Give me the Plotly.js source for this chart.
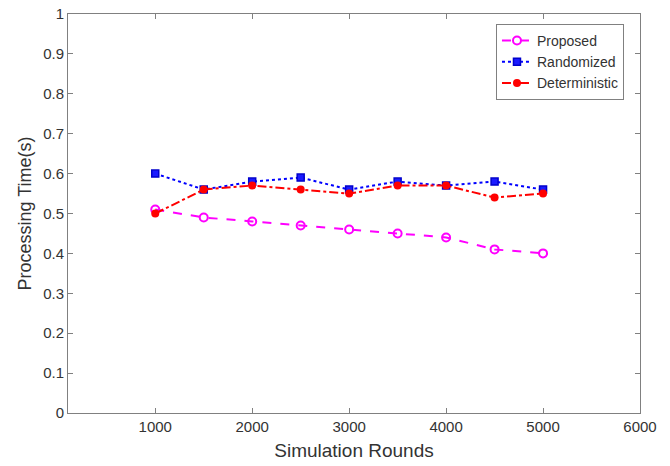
<!DOCTYPE html>
<html><head><meta charset="utf-8">
<script src="https://cdn.plot.ly/plotly-3.0.1.min.js"></script>
<style>html,body{margin:0;padding:0;background:#fff}#chart{width:670px;height:466px}</style>
</head><body><div id="chart"></div>
<script>
const rounds = [1000,1500,2000,2500,3000,3500,4000,4500,5000];
const proposed = [0.51,0.49,0.48,0.47,0.46,0.45,0.44,0.41,0.40];
const randomized = [0.60,0.56,0.58,0.59,0.56,0.58,0.57,0.58,0.56];
const deterministic = [0.50,0.56,0.57,0.56,0.55,0.57,0.57,0.54,0.55];
const xTicks = [1000,2000,3000,4000,5000,6000];
const yTicks = [0,0.1,0.2,0.3,0.4,0.5,0.6,0.7,0.8,0.9,1];

const font = {family:'"Liberation Sans", Arial, sans-serif', color:'#333333'};
const traces = [
 {x:rounds,y:proposed,name:'Proposed',mode:'lines+markers',
  line:{color:'#ff00ff',width:2,dash:'dash'},
  marker:{symbol:'circle-open',size:8,color:'#ff00ff',line:{width:2,color:'#ff00ff'}}},
 {x:rounds,y:randomized,name:'Randomized',mode:'lines+markers',
  line:{color:'#0000ff',width:2,dash:'dot'},
  marker:{symbol:'square',size:7,color:'#1a1aff',line:{width:1.5,color:'#0000cc'}}},
 {x:rounds,y:deterministic,name:'Deterministic',mode:'lines+markers',
  line:{color:'#ff0000',width:2,dash:'dashdot'},
  marker:{symbol:'circle',size:8,color:'#ff0000'}}
];
const axisCommon = {showgrid:false,zeroline:false,showline:true,linecolor:'#808080',linewidth:1,
  mirror:'ticks',ticks:'inside',ticklen:5,tickcolor:'#808080',tickfont:{...font,size:15}};
const layout = {
 width:670,height:466,margin:{l:68,r:30,t:14,b:53},
 paper_bgcolor:'#fff',plot_bgcolor:'#fff',font:font,
 xaxis:{...axisCommon,range:[100,6000],tickvals:xTicks,ticktext:xTicks.map(String),
   title:{text:'Simulation Rounds',font:{...font,size:19},standoff:9}},
 yaxis:{...axisCommon,range:[0,1],tickvals:yTicks,ticktext:yTicks.map(String),
   title:{text:'Processing Time(s)',font:{...font,size:18},standoff:6}},
 legend:{x:0.972,xanchor:'right',y:0.975,yanchor:'top',bordercolor:'#808080',borderwidth:1,
   bgcolor:'#fff',font:{...font,size:14},tracegroupgap:0,itemwidth:30},
 showlegend:true
};
Plotly.newPlot('chart',traces,layout,{displayModeBar:false,staticPlot:true});
</script></body></html>
